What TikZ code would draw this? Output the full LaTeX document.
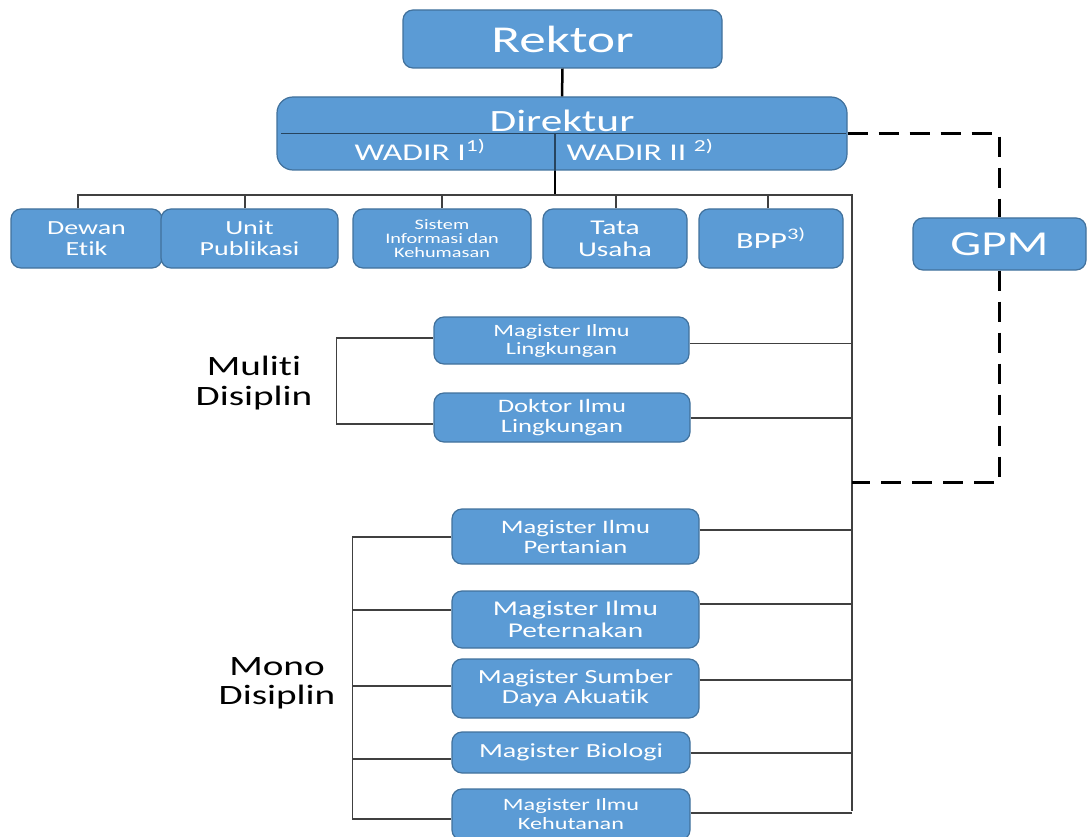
\documentclass[tikz,border=0pt]{standalone}
\usepackage{fontspec}
\setmainfont[FakeStretch=1.4, Ligatures={NoCommon}]{Carlito}
\definecolor{boxfill}{HTML}{5B9BD5}
\definecolor{boxline}{HTML}{41719C}
\definecolor{busgray}{HTML}{404040}
\tikzset{
  orgbox/.style={draw=boxline, line width=1.2pt, fill=boxfill, rounded corners=10pt,
    text=white, align=center, inner sep=0pt},
  sz/.style 2 args={font=\fontsize{#1}{#2}\selectfont},
  bus/.style={draw=busgray, line width=1.1pt},
  gpmline/.style={line width=3pt, dash pattern=on 20pt off 11pt},
}
\begin{document}
\begin{tikzpicture}[x=1pt,y=-1pt]
\useasboundingbox (0,0) rectangle (1087,837);
% pimpinan
\node[orgbox, minimum width=319, minimum height=58, sz={38}{40}] (rektor) at (562.5,39) {Rektor};
\node[orgbox, rounded corners=16pt, minimum width=570, minimum height=73] (dir) at (562,133.5) {};
\coordinate (dsplit) at ([xshift=-7pt]dir.center);
\draw[boxline!60!black, line width=1.2pt] ([xshift=5pt]dir.west) -- ([xshift=-2pt]dir.east);
\draw[boxline!60!black, line width=1.2pt] (dsplit) -- (dsplit |- dir.south);
\node[text=white, sz={31}{33}] (dirtext) at (562,121) {Direktur};
\node[text=white, sz={24}{26}] (wadir1) at (420,150) {WADIR I\textsuperscript{1)}};
\node[text=white, sz={24}{26}] (wadir2) at (640,150) {WADIR II \textsuperscript{2)}};
\draw[line width=2.5pt] (rektor.south) -- (dir.north);
% unit pendukung
\node[orgbox, minimum width=151, minimum height=59, sz={20}{21}] (dewan) at (86.5,238.5) {Dewan\\Etik};
\node[orgbox, minimum width=177, minimum height=59, sz={20}{21}] (upub) at (249.5,238.5) {Unit\\Publikasi};
\node[orgbox, minimum width=178, minimum height=59, sz={14.5}{14}] (sik) at (442,238.5) {Sistem\\Informasi dan\\Kehumasan};
\node[orgbox, minimum width=144, minimum height=59, sz={21}{22}] (tu) at (615,238.5) {Tata\\Usaha};
\node[orgbox, minimum width=144, minimum height=59, sz={23}{24}] (bpp) at (771,238.5) {BPP\textsuperscript{3)}};
\node[orgbox, minimum width=173, minimum height=52, sz={35}{36}] (gpm) at (999.5,244) {GPM};
% program studi
\node[orgbox, minimum width=255, minimum height=47, sz={17.3}{18}] (mil) at (561.5,340.5) {Magister Ilmu\\Lingkungan};
\node[orgbox, minimum width=256, minimum height=49, sz={19}{20}] (dil) at (562,417.5) {Doktor Ilmu\\Lingkungan};
\node[orgbox, minimum width=247, minimum height=55, sz={19}{20}] (pert) at (575.5,536.5) {Magister Ilmu\\Pertanian};
\node[orgbox, minimum width=247, minimum height=57, sz={21}{22}] (pet) at (575.5,619.5) {Magister Ilmu\\Peternakan};
\node[orgbox, minimum width=247, minimum height=59, sz={20}{20}] (sda) at (575.5,688.5) {Magister Sumber\\Daya Akuatik};
\node[orgbox, minimum width=238, minimum height=41, sz={20}{20}] (bio) at (571,752.5) {Magister Biologi};
\node[orgbox, minimum width=238, minimum height=51, sz={17.3}{19}] (hut) at (571,814.5) {Magister Ilmu\\Kehutanan};
\node[align=center, sz={28}{30}] (multi) at (254,383) {Muliti\\Disiplin};
\node[align=center, sz={28}{29}] (mono) at (277,683) {Mono\\Disiplin};
% garis
\coordinate (busT) at (852,195);
\coordinate (busB) at (852,811);
\draw[line width=2.5pt] (dsplit |- dir.south) -- (dsplit |- busT);
\draw[bus] ([xshift=-8.5pt]dewan.north) |- (busT) -- (busB);
\foreach \n/\dx in {upub/-4.5, sik/0, tu/1, bpp/-3}
  \draw[bus] ([xshift=\dx pt]\n.north) coordinate (d) -- (d |- busT);
\foreach \n/\dy in {mil/-3, dil/-0.5, pert/6.5, pet/15.5, sda/8.5, bio/-0.5, hut/1.5}
  \draw[bus] ([yshift=\dy pt]\n.east) coordinate (r) -- (r -| busT);
\draw[bus] ([yshift=2.5pt]mil.west) -- ++(-97,0) |- ([yshift=-6.5pt]dil.west);
\draw[bus] ([yshift=-0.5pt]pert.west) -- ++(-99,0) coordinate (mt) |- ([yshift=-4.5pt]hut.west);
\foreach \n/\dy in {pet/9.5, sda/2.5, bio/-6.5}
  \draw[bus] ([yshift=\dy pt]\n.west) coordinate (l) -- (l -| mt);
% GPM
\coordinate (gpmin) at (852,482);
\draw[gpmline] (dir.east) -| (gpm.north);
\draw[gpmline] (gpm.south) |- (gpmin);
\end{tikzpicture}
\end{document}
